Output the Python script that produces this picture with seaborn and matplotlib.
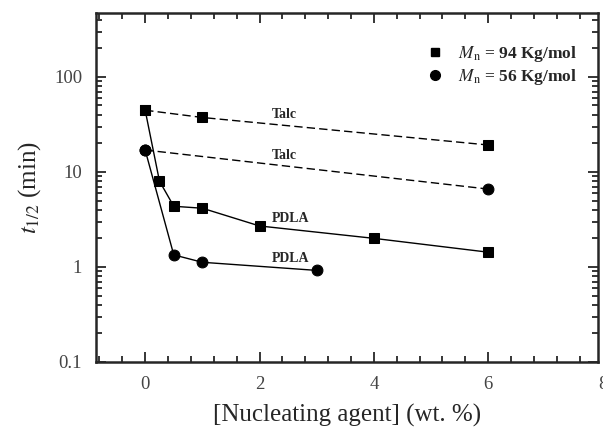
import matplotlib
matplotlib.use("Agg")
import matplotlib.pyplot as plt
import seaborn as sns
import pandas as pd
import numpy as np
from matplotlib.lines import Line2D
from matplotlib.ticker import LogLocator, NullFormatter, FixedLocator, FuncFormatter

# Data
talc94_x = [0, 1, 6]
talc94_y = [44.6, 37.4, 19.2]
talc56_x = [0, 6]
talc56_y = [17.0, 6.6]
pdla94_x = [0, 0.25, 0.5, 1, 2, 4, 6]
pdla94_y = [44.6, 8.0, 4.35, 4.15, 2.7, 2.0, 1.43]
pdla56_x = [0, 0.5, 1, 3]
pdla56_y = [17.0, 1.34, 1.12, 0.92]
legend_labels = [r"$\mathbf{\mathit{M}}_{\mathrm{n}}$ = 94 Kg/mol", r"$\mathbf{\mathit{M}}_{\mathrm{n}}$ = 56 Kg/mol"]
y_ticks = [0.1, 1, 10, 100]
y_ticklabels = ["0.1", "1", "10", "100"]
x_ticks = [0, 2, 4, 6, 8]

sns.set_style("ticks")
plt.rcParams["font.family"] = ["Liberation Serif", "DejaVu Serif"]
plt.rcParams["mathtext.fontset"] = "stix"

fig = plt.figure(figsize=(6.03, 4.33), dpi=100)
ax = fig.add_axes([96/603, 1 - 362/433, (598-96)/603, (362-13)/433])

def df(x, y):
    return pd.DataFrame({"x": x, "y": y})

sq_size = 7.2
ci_size = 7.8
sns.lineplot(data=df(talc94_x, talc94_y), x="x", y="y", ax=ax, color="black",
             linestyle=(0, (6, 3)), linewidth=1.0, marker="s", markersize=sq_size,
             markeredgecolor="black", markerfacecolor="black")
sns.lineplot(data=df(talc56_x, talc56_y), x="x", y="y", ax=ax, color="black",
             linestyle=(0, (6, 3)), linewidth=1.0, marker="o", markersize=ci_size,
             markeredgecolor="black", markerfacecolor="black")
sns.lineplot(data=df(pdla94_x, pdla94_y), x="x", y="y", ax=ax, color="black",
             linewidth=1.0, marker="s", markersize=sq_size,
             markeredgecolor="black", markerfacecolor="black")
sns.lineplot(data=df(pdla56_x, pdla56_y), x="x", y="y", ax=ax, color="black",
             linewidth=1.0, marker="o", markersize=ci_size,
             markeredgecolor="black", markerfacecolor="black")

ax.set_yscale("log")
ax.set_xlim(-0.86, 7.92)
ax.set_ylim(0.1, 470)

ax.xaxis.set_major_locator(FixedLocator(x_ticks))
ax.xaxis.set_minor_locator(FixedLocator(np.arange(-0.8, 8.0, 0.4)))
ax.yaxis.set_major_locator(FixedLocator(y_ticks))
ax.yaxis.set_major_formatter(FuncFormatter(lambda v, p: y_ticklabels[y_ticks.index(v)] if v in y_ticks else ""))
ax.yaxis.set_minor_locator(LogLocator(base=10, subs=np.arange(2, 10), numticks=20))
ax.yaxis.set_minor_formatter(NullFormatter())

ax.tick_params(which="both", direction="in", top=True, right=True, width=1.3,
               labelsize=13.5, labelcolor="#444444")
ax.tick_params(axis="x", which="major", pad=10)
ax.tick_params(axis="y", which="major", pad=10)
ax.tick_params(which="major", length=7)
ax.tick_params(which="minor", length=4.5)
for s in ax.spines.values():
    s.set_linewidth(1.8)

# tick label "8" that sits at the clipped right edge (outside the x range)
ax.annotate("8", xy=(8, 0), xycoords=("data", "axes fraction"),
            xytext=(0, -10), textcoords="offset points", ha="center", va="top",
            fontsize=13.5, color="#444444", annotation_clip=False)

ax.set_xlabel("[Nucleating agent] (wt. %)", fontsize=18, labelpad=8)
ax.set_ylabel(r"$\mathit{t}_{\mathrm{1/2}}$ (min)", fontsize=18, labelpad=8)

# annotations
ax.text(2.43, 40.4, "Talc", fontsize=10, fontweight="bold", ha="center", va="center")
ax.text(2.43, 14.8, "Talc", fontsize=10, fontweight="bold", ha="center", va="center")
ax.text(2.54, 3.26, "PDLA", fontsize=10, fontweight="bold", ha="center", va="center")
ax.text(2.54, 1.24, "PDLA", fontsize=10, fontweight="bold", ha="center", va="center")

handles = [Line2D([], [], color="black", marker="s", linestyle="none", markersize=6),
           Line2D([], [], color="black", marker="o", linestyle="none", markersize=7)]
leg = ax.legend(handles, legend_labels, loc="upper right", frameon=False,
                prop={"weight": "bold", "size": 12.5}, handletextpad=0.35,
                labelspacing=0.15, bbox_to_anchor=(0.99, 0.955))

fig.savefig("out.png", dpi=100)
